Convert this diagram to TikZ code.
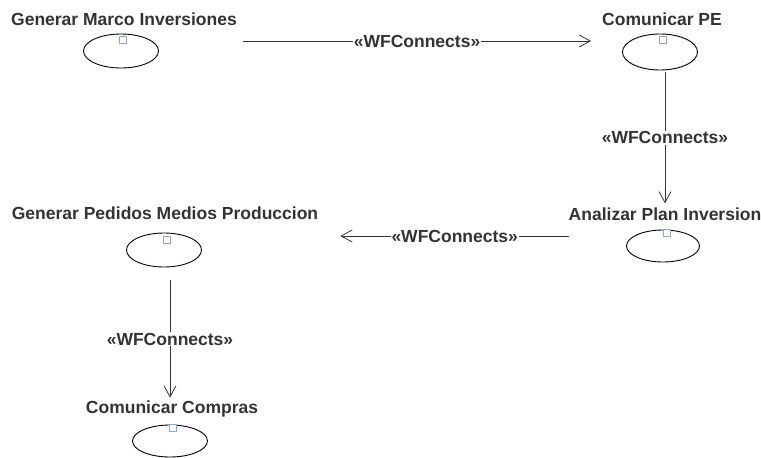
\documentclass[tikz,border=0pt]{standalone}
\usepackage{fontspec}
\setmainfont{Liberation Sans}
\usetikzlibrary{arrows.meta,calc,shapes.geometric}
\definecolor{ink}{HTML}{333333}
\definecolor{marker}{HTML}{8FA8C8}
\begin{document}
\begin{tikzpicture}[x=1pt,y=-1pt,
  title/.style={text=ink,font=\fontsize{17.5}{20}\selectfont\bfseries,inner sep=0pt},
  usecase/.style={draw=black,line width=0.9pt,ellipse,inner sep=0pt},
  tag/.style={draw=marker,line width=0.8pt,fill=white,minimum size=7pt,inner sep=0pt},
  conn/.style={draw=ink,line width=0.8pt,-{Straight Barb[length=11pt,width=12pt,line width=0.8pt]}},
  lbl/.style={fill=white,text=ink,font=\fontsize{17.5}{20}\selectfont\bfseries,inner sep=1pt}]
\useasboundingbox (0,0) rectangle (761,458);

% Generar Marco Inversiones
\node[title] (t1) at (124,19) {Generar Marco Inversiones};
\node[usecase,minimum width=75pt,minimum height=34pt] (e1) at (121,51) {};
\node[tag] (s1) at (123,40) {};

% Comunicar PE
\node[title] (t2) at (662,19) {Comunicar PE};
\node[usecase,minimum width=75pt,minimum height=36pt] (e2) at (660,52) {};
\node[tag] (s2) at (663,40) {};

% Analizar Plan Inversion
\node[title] (t3) at (665,214) {Analizar Plan Inversion};
\node[usecase,minimum width=73pt,minimum height=32pt] (e3) at (663,246) {};
\node[tag] (s3) at (667,233) {};

% Generar Pedidos Medios Produccion
\node[title] (t4) at (165,213) {Generar Pedidos Medios Produccion};
\node[usecase,minimum width=75pt,minimum height=34pt] (e4) at (164,250) {};
\node[tag] (s4) at (167,240) {};

% Comunicar Compras
\node[title] (t5) at (172,409) {Comunicar Compras};
\node[usecase,minimum width=75pt,minimum height=32pt] (e5) at (170,441) {};
\node[tag] (s5) at (173,428) {};

% WFConnects flow
\draw[conn] ($(t1.east |- s1.center)+(6,1)$) -- node[lbl]{«WFConnects»} ($(e2.west |- s1.center)+(-31,1)$);
\draw[conn] ($(e2.south)+(5,2)$) -- node[lbl]{«WFConnects»} ($(t3.north -| e2.south)+(5,-4)$);
\draw[conn] ($(e3.west)+(-57,-10)$) -- node[lbl]{«WFConnects»} ($(t4.east |- e3.west)+(22,-10)$);
\draw[conn] ($(e4.south)+(6,13)$) -- node[lbl]{«WFConnects»} ($(t5.north -| e4.south)+(6,-3)$);
\end{tikzpicture}
\end{document}
